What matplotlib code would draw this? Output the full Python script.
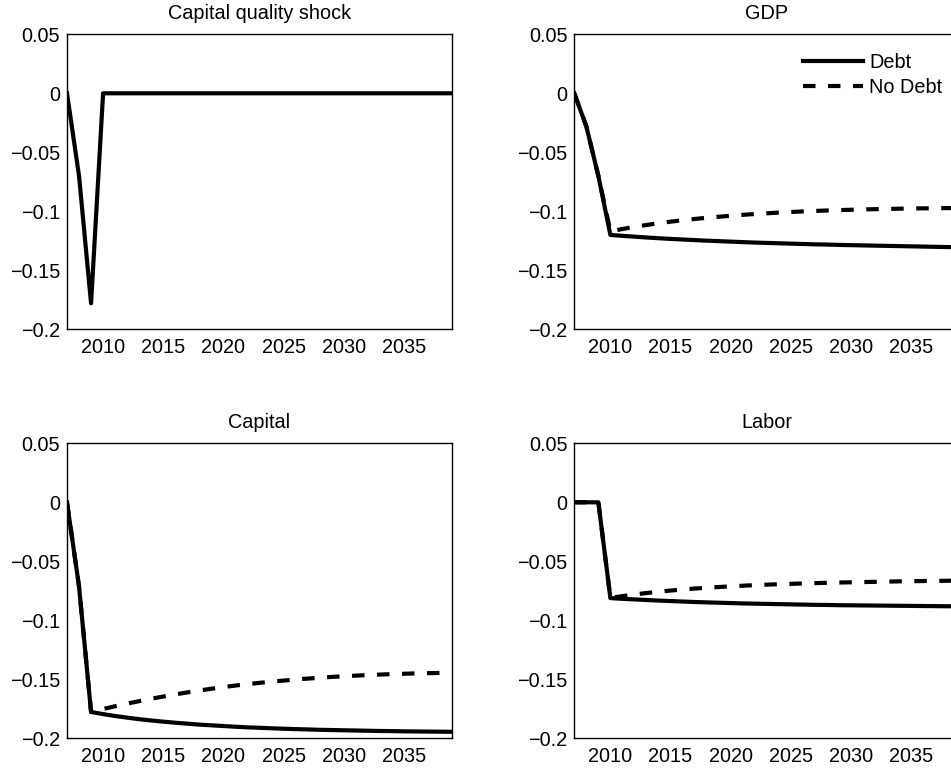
import numpy as np
import matplotlib
matplotlib.use("Agg")
from matplotlib import pyplot as plt

years = np.arange(2007, 2040)

shock = [0, -0.070, -0.178] + [0] * 30

gdp_debt = [0, -0.0280, -0.0700,
            -0.1200, -0.1208, -0.1215, -0.1222, -0.1228, -0.1234, -0.1239, -0.1244, -0.1249, -0.1253,
            -0.1257, -0.1261, -0.1265, -0.1268, -0.1271, -0.1274, -0.1277, -0.1280, -0.1282, -0.1285,
            -0.1287, -0.1289, -0.1291, -0.1293, -0.1295, -0.1297, -0.1299, -0.1301, -0.1303, -0.1305]
gdp_nodebt = [0, -0.0280, -0.0700,
              -0.1170, -0.1150, -0.1132, -0.1116, -0.1101, -0.1088, -0.1076, -0.1065, -0.1055, -0.1046,
              -0.1038, -0.1030, -0.1023, -0.1017, -0.1011, -0.1006, -0.1001, -0.0997, -0.0993, -0.0990,
              -0.0987, -0.0984, -0.0982, -0.0980, -0.0978, -0.0976, -0.0975, -0.0974, -0.0973, -0.0972]

capital_debt = [0, -0.0713, -0.1777,
                -0.1795, -0.1811, -0.1825, -0.1838, -0.1849, -0.1859, -0.1868, -0.1876, -0.1884, -0.1890,
                -0.1896, -0.1902, -0.1907, -0.1911, -0.1915, -0.1919, -0.1922, -0.1925, -0.1928, -0.1930,
                -0.1932, -0.1934, -0.1936, -0.1938, -0.1939, -0.1941, -0.1942, -0.1943, -0.1944, -0.1945]
capital_nodebt = [0, -0.0713, -0.1777,
                  -0.1752, -0.1728, -0.1706, -0.1685, -0.1665, -0.1646, -0.1628, -0.1611, -0.1595, -0.1580,
                  -0.1566, -0.1553, -0.1541, -0.1530, -0.1520, -0.1511, -0.1502, -0.1494, -0.1487, -0.1480,
                  -0.1474, -0.1469, -0.1464, -0.1460, -0.1456, -0.1453, -0.1450, -0.1448, -0.1446, -0.1445]

labor_debt = [0, 0, 0,
              -0.0812, -0.0818, -0.0823, -0.0828, -0.0833, -0.0837, -0.0841, -0.0845, -0.0848, -0.0851,
              -0.0854, -0.0857, -0.0859, -0.0861, -0.0863, -0.0865, -0.0867, -0.0869, -0.0870, -0.0872,
              -0.0873, -0.0874, -0.0875, -0.0876, -0.0877, -0.0878, -0.0879, -0.0880, -0.0881, -0.0882]
labor_nodebt = [0, 0, 0,
                -0.0810, -0.0795, -0.0781, -0.0769, -0.0758, -0.0748, -0.0739, -0.0731, -0.0724, -0.0718,
                -0.0712, -0.0707, -0.0702, -0.0698, -0.0694, -0.0691, -0.0688, -0.0685, -0.0682, -0.0680,
                -0.0678, -0.0676, -0.0674, -0.0672, -0.0670, -0.0669, -0.0667, -0.0666, -0.0665, -0.0663]

xticks = [2010, 2015, 2020, 2025, 2030, 2035]
yticks = [-0.2, -0.15, -0.1, -0.05, 0, 0.05]
ytick_labels = ["\u22120.2", "\u22120.15", "\u22120.1", "\u22120.05", "0", "0.05"]

plt.rcParams['font.family'] = ['Liberation Sans', 'DejaVu Sans']
fs = 14.3
plt.rcParams['font.size'] = fs

fig = plt.figure(figsize=(9.51, 7.70), dpi=100)

# axes boxes in pixels (left, top) -> figure fractions; right column runs off the edge
W, H = 951.0, 770.0
aw, ah = 385.0, 295.0
boxes = [(67, 34.3), (574.3, 34.3), (67, 443.3), (574.3, 443.3)]
titles = ["Capital quality shock", "GDP", "Capital", "Labor"]
axes = []
for (l, t) in boxes:
    ax = fig.add_axes([l / W, (H - t - ah) / H, aw / W, ah / H])
    axes.append(ax)

for ax, title in zip(axes, titles):
    ax.set_xlim(2007, 2039)
    ax.set_ylim(-0.2, 0.05)
    ax.set_xticks(xticks)
    ax.set_yticks(yticks)
    ax.set_yticklabels(ytick_labels)
    ax.tick_params(direction='in', length=0)
    ax.tick_params(axis='x', pad=6)
    ax.tick_params(axis='y', pad=5)
    for s in ax.spines.values():
        s.set_linewidth(1.0)
    ax.set_title(title, fontsize=fs, pad=11)

lw = 3.0
dash = (0, (3, 3))

axes[0].plot(years, shock, color='black', lw=lw)

axes[1].plot(years, gdp_nodebt, color='black', lw=lw, linestyle=dash, label='No Debt')
axes[1].plot(years, gdp_debt, color='black', lw=lw, label='Debt')
h, lab = axes[1].get_legend_handles_labels()
axes[1].legend(h[::-1], lab[::-1], loc='upper left', bbox_to_anchor=(0.594, 0.937),
               frameon=False, borderpad=0, borderaxespad=0, handlelength=3.0,
               handletextpad=0.33, labelspacing=0.3, fontsize=fs)

axes[2].plot(years, capital_nodebt, color='black', lw=lw, linestyle=dash)
axes[2].plot(years, capital_debt, color='black', lw=lw)

axes[3].plot(years, labor_nodebt, color='black', lw=lw, linestyle=dash)
axes[3].plot(years, labor_debt, color='black', lw=lw)

plt.savefig("out.png", dpi=100)
plt.close()
